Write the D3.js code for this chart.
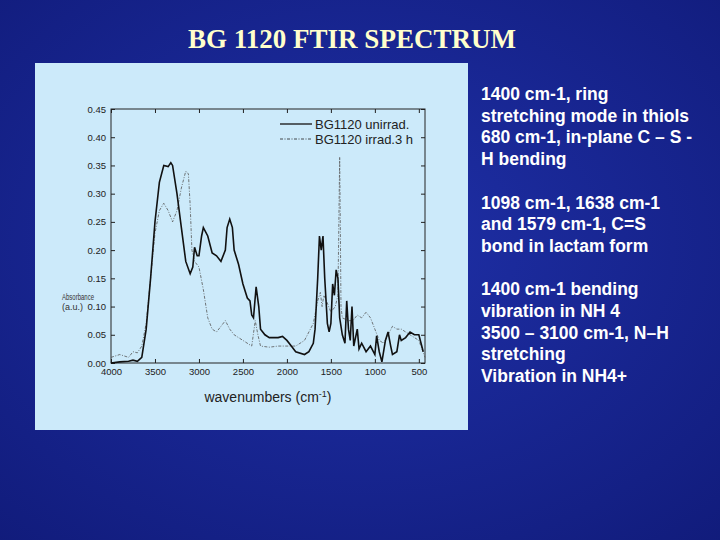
<!DOCTYPE html>
<html><head><meta charset="utf-8">
<script src="https://cdn.jsdelivr.net/npm/d3@7"></script>
<style>body{margin:0;overflow:hidden}</style>
</head><body>
<svg id="slide" width="720" height="540"></svg>
<script>
const wnUnirr = [4000,3900,3800,3750,3700,3650,3600,3550,3500,3450,3400,3350,3320,3300,3250,3200,3150,3100,3070,3050,3020,3000,2970,2950,2900,2850,2800,2750,2700,2680,2650,2620,2600,2550,2500,2450,2420,2400,2380,2350,2320,2300,2250,2200,2100,2050,2000,1950,1900,1800,1750,1700,1680,1650,1630,1610,1590,1570,1540,1520,1500,1480,1460,1440,1420,1400,1370,1340,1320,1300,1280,1260,1240,1200,1180,1150,1100,1050,1000,980,950,920,880,850,820,800,750,720,700,650,600,550,500,450];
const absUnirr = [0,0.002,0.003,0.005,0.003,0.01,0.06,0.15,0.25,0.32,0.35,0.348,0.355,0.35,0.3,0.24,0.18,0.158,0.17,0.205,0.19,0.19,0.225,0.24,0.225,0.195,0.19,0.18,0.2,0.24,0.255,0.24,0.2,0.175,0.14,0.115,0.11,0.085,0.08,0.135,0.1,0.06,0.05,0.045,0.045,0.047,0.04,0.03,0.02,0.015,0.02,0.035,0.06,0.15,0.225,0.2,0.225,0.15,0.07,0.055,0.07,0.14,0.12,0.165,0.15,0.08,0.05,0.035,0.11,0.06,0.04,0.1,0.03,0.06,0.025,0.035,0.02,0.03,0.015,0.048,0.02,0.002,0.04,0.055,0.03,0.015,0.02,0.05,0.04,0.045,0.055,0.05,0.05,0.02];
const wnIrr = [4000,3900,3800,3750,3700,3650,3600,3550,3500,3450,3400,3350,3300,3250,3200,3150,3120,3100,3080,3050,3000,2950,2900,2850,2800,2750,2700,2650,2600,2500,2400,2360,2330,2300,2200,2100,2000,1900,1800,1700,1650,1620,1600,1580,1550,1500,1450,1420,1400,1385,1370,1300,1250,1200,1150,1100,1050,1000,950,900,850,800,750,700,650,600,500,430];
const absIrr = [0.01,0.015,0.01,0.02,0.018,0.03,0.07,0.15,0.23,0.27,0.283,0.27,0.25,0.27,0.31,0.34,0.335,0.28,0.2,0.18,0.17,0.13,0.08,0.06,0.055,0.065,0.075,0.06,0.05,0.04,0.03,0.075,0.05,0.03,0.028,0.03,0.03,0.03,0.04,0.07,0.11,0.125,0.1,0.12,0.11,0.09,0.1,0.12,0.365,0.1,0.08,0.075,0.075,0.085,0.08,0.09,0.08,0.06,0.04,0.035,0.05,0.065,0.06,0.06,0.055,0.05,0.04,0.01];
const xTicks = [4000,3500,3000,2500,2000,1500,1000,500];
const yTicks = [0,0.05,0.1,0.15,0.2,0.25,0.3,0.35,0.4,0.45];
const notes = [
  ['1400 cm-1, ring','stretching mode in thiols','680 cm-1, in-plane C – S -','H bending'],
  ['1098 cm-1, 1638 cm-1','and 1579 cm-1, C=S','bond in lactam form'],
  ['1400 cm-1 bending','vibration in NH 4','3500 – 3100 cm-1,  N–H','stretching','Vibration in NH4+']
];

const svg = d3.select('#slide');
const grad = svg.append('defs').append('radialGradient').attr('id', 'bg')
  .attr('cx', '50%').attr('cy', '45%').attr('r', '80%');
grad.append('stop').attr('offset', '0%').attr('stop-color', '#1f30a8');
grad.append('stop').attr('offset', '100%').attr('stop-color', '#101a78');
svg.append('rect').attr('width', 720).attr('height', 540).attr('fill', 'url(#bg)');

svg.append('text').attr('x', 352).attr('y', 48).attr('text-anchor', 'middle')
  .attr('font-family', 'Liberation Serif').attr('font-weight', 'bold').attr('font-size', 27)
  .attr('fill', '#ffffcc').text('BG 1120 FTIR SPECTRUM');

svg.append('rect').attr('x', 35).attr('y', 63).attr('width', 433).attr('height', 367).attr('fill', '#cceafa');

const x = d3.scaleLinear().domain([4000, 430]).range([111, 425]);
const y = d3.scaleLinear().domain([0, 0.45]).range([363, 109]);

const g = svg.append('g').attr('font-family', 'Liberation Sans');
g.append('rect').attr('x', 111).attr('y', 109).attr('width', 314).attr('height', 254)
  .attr('fill', 'none').attr('stroke', '#222');

g.append('g').attr('transform', 'translate(0,363)')
  .call(d3.axisBottom(x).tickValues(xTicks).tickFormat(d3.format('d')).tickSize(-4).tickPadding(5));
g.append('g').attr('transform', 'translate(111,0)')
  .call(d3.axisLeft(y).tickValues(yTicks).tickFormat(d3.format('.2f')).tickSize(-4).tickPadding(5));
g.append('g').attr('transform', 'translate(425,0)')
  .call(d3.axisRight(y).tickValues(yTicks).tickFormat('').tickSize(-4));
g.append('g').attr('transform', 'translate(0,109)')
  .call(d3.axisTop(x).tickValues(xTicks).tickFormat('').tickSize(-4));
g.selectAll('.domain').remove();
g.selectAll('.tick line').attr('stroke', '#222');
g.selectAll('.tick text').attr('font-size', 9.5).attr('fill', '#222').attr('font-family', 'Liberation Sans');

const line = d3.line().x(d => x(d[0])).y(d => y(d[1]));
g.append('path').datum(d3.zip(wnIrr, absIrr)).attr('d', line)
  .attr('fill', 'none').attr('stroke', '#555').attr('stroke-width', 0.8).attr('stroke-dasharray', '3,1.5,1,1.5');
g.append('path').datum(d3.zip(wnUnirr, absUnirr)).attr('d', line)
  .attr('fill', 'none').attr('stroke', '#111').attr('stroke-width', 1.6);

const leg = [['BG1120 unirrad.', null, 1.4], ['BG1120 irrad.3 h', '3,1.5,1,1.5', 0.8]];
leg.forEach((l, i) => {
  const ly = 124 + i * 15;
  g.append('line').attr('x1', 280).attr('x2', 312).attr('y1', ly).attr('y2', ly)
    .attr('stroke', '#222').attr('stroke-width', l[2]).attr('stroke-dasharray', l[1]);
  g.append('text').attr('x', 315).attr('y', ly + 5).attr('font-size', 13).attr('fill', '#222').text(l[0]);
});

g.append('text').attr('x', 268).attr('y', 402).attr('text-anchor', 'middle').attr('font-size', 14)
  .attr('fill', '#222').html('wavenumbers  (cm<tspan dy="-5" font-size="9">-1</tspan><tspan dy="5">)</tspan>');
g.append('text').attr('x', 62).attr('y', 300).attr('font-size', 9).attr('fill', '#333')
  .attr('textLength', 32).attr('lengthAdjust', 'spacingAndGlyphs').text('Absorbance');
g.append('text').attr('x', 62).attr('y', 310).attr('font-size', 9).attr('fill', '#333').text('(a.u.)');

let ty = 100;
notes.forEach(block => {
  block.forEach(t => {
    svg.append('text').attr('x', 481).attr('y', ty).attr('font-family', 'Liberation Sans')
      .attr('font-weight', 'bold').attr('font-size', 17.5).attr('fill', '#fff').text(t);
    ty += 21.7;
  });
  ty += 21.7;
});
</script>
</body></html>
